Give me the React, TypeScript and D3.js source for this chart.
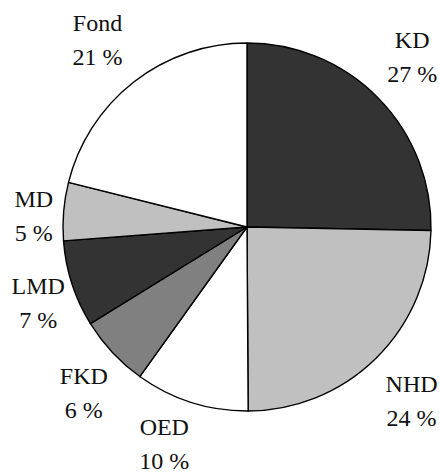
import React from "react";
import * as d3 from "d3";

const categories = ["KD", "NHD", "OED", "FKD", "LMD", "MD", "Fond"];
const sliceValues = [25.3, 24.6, 10, 6.3, 7.6, 5.1, 21.1];
const pctLabels = ["27 %", "24 %", "10 %", "6 %", "7 %", "5 %", "21 %"];
const fills = ["#333333", "#c0c0c0", "#ffffff", "#808080", "#333333", "#c0c0c0", "#ffffff"];
const labelNudge: [number, number][] = [
  [1, -1],
  [3, 18],
  [-13, 6],
  [5, 17],
  [10, 13],
  [16, 16],
  [-8, 2],
];

const W = 439;
const H = 473;
const cx = 247;
const cy = 227;
const R = 184;
const LABEL_R = 230;

const css = `
svg.pie-chart text.lbl {
  font-family: "Liberation Serif", "Tinos", "Times New Roman", serif !important;
  font-size: 24px !important;
  fill: #111 !important;
}
`;

export default function App() {
  const pie = d3.pie<number>().sort(null).value((d) => d).startAngle(0).endAngle(2 * Math.PI);
  const arcs = pie(sliceValues);
  const arc = d3.arc<d3.PieArcDatum<number>>().innerRadius(0).outerRadius(R);
  const labelArc = d3.arc<d3.PieArcDatum<number>>().innerRadius(LABEL_R).outerRadius(LABEL_R);

  return (
    <svg className="pie-chart" width={W} height={H} style={{ position: "absolute", left: 0, top: 0 }}>
      <style>{css}</style>
      <g transform={`translate(${cx},${cy})`}>
        {arcs.map((a, i) => (
          <path key={categories[i]} d={arc(a) || ""} fill={fills[i]} stroke="#000" strokeWidth={1.4} strokeLinejoin="round" />
        ))}
      </g>
      {arcs.map((a, i) => {
        const [lx, ly] = labelArc.centroid(a);
        const x = cx + lx + labelNudge[i][0];
        const y = cy + ly + labelNudge[i][1];
        return (
          <React.Fragment key={"l" + categories[i]}>
            <text className="lbl" x={x} y={y - 17} fontFamily="Liberation Serif" fontSize={24} textAnchor="middle" fill="#111">
              {categories[i]}
            </text>
            <text className="lbl" x={x} y={y + 17} fontFamily="Liberation Serif" fontSize={24} textAnchor="middle" fill="#111">
              {pctLabels[i]}
            </text>
          </React.Fragment>
        );
      })}
    </svg>
  );
}
